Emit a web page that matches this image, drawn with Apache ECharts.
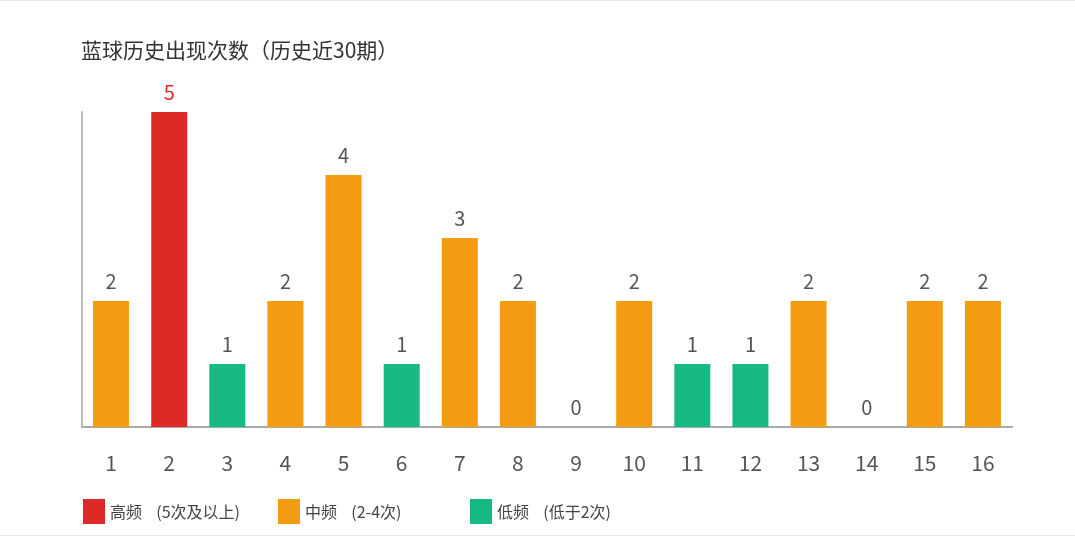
<!DOCTYPE html>
<html>
<head>
<meta charset="utf-8">
<script src="https://cdn.jsdelivr.net/npm/echarts@6/dist/echarts.min.js"></script>
<style>
  html, body { margin: 0; padding: 0; background: #fff; }
  #chart { width: 1075px; height: 536px; box-sizing: border-box; border-top: 1px solid #e6e6e6; border-bottom: 1px solid #e6e6e6; }
</style>
</head>
<body>
<div id="chart"></div>
<script>
const categories = ['1','2','3','4','5','6','7','8','9','10','11','12','13','14','15','16'];
const counts = [2, 5, 1, 2, 4, 1, 3, 2, 0, 2, 1, 1, 2, 0, 2, 2];
const groupNames = ['高频    (5次及以上)', '中频    (2-4次)', '低频    (低于2次)'];
const groupColors = ['#dd2a27', '#f39c12', '#16b884'];
const legendLeft = [78, 273, 465];

function groupOf(v) {
  if (v >= 5) return 0;
  if (v >= 2) return 1;
  return 2;
}

const chart = echarts.init(document.getElementById('chart'));
const font = '"Noto Sans CJK SC", "Noto Sans", sans-serif';

const series = groupNames.map((name, g) => ({
  name: name,
  type: 'bar',
  stack: 'all',
  barWidth: 36,
  itemStyle: { color: groupColors[g] },
  label: {
    show: true,
    position: 'top',
    distance: 10,
    fontSize: 20,
    fontFamily: font,
    color: g === 0 ? '#dd2a27' : '#555'
  },
  data: counts.map(v => groupOf(v) === g ? v : null)
}));

chart.setOption({
  animation: false,
  textStyle: { fontFamily: font },
  title: {
    text: '蓝球历史出现次数（历史近30期）',
    left: 76, top: 34,
    textStyle: { fontSize: 21, fontWeight: 'normal', color: '#333' }
  },
  legend: groupNames.map((n, i) => ({
    data: [n],
    left: legendLeft[i], top: 493,
    itemWidth: 22, itemHeight: 25,
    itemGap: 12,
    icon: 'rect',
    textStyle: { fontSize: 16, color: '#444' }
  })),
  grid: { left: 82, right: 63, top: 111, bottom: 108 },
  xAxis: {
    type: 'category',
    data: categories,
    axisLine: { lineStyle: { color: '#aaa', width: 2 } },
    axisTick: { show: false },
    axisLabel: { fontSize: 21, color: '#555', margin: 26 }
  },
  yAxis: {
    type: 'value',
    min: 0, max: 5,
    axisLine: { show: true, lineStyle: { color: '#bbb', width: 2 } },
    axisLabel: { show: false },
    axisTick: { show: false },
    splitLine: { show: false }
  },
  series: series
});
</script>
</body>
</html>
